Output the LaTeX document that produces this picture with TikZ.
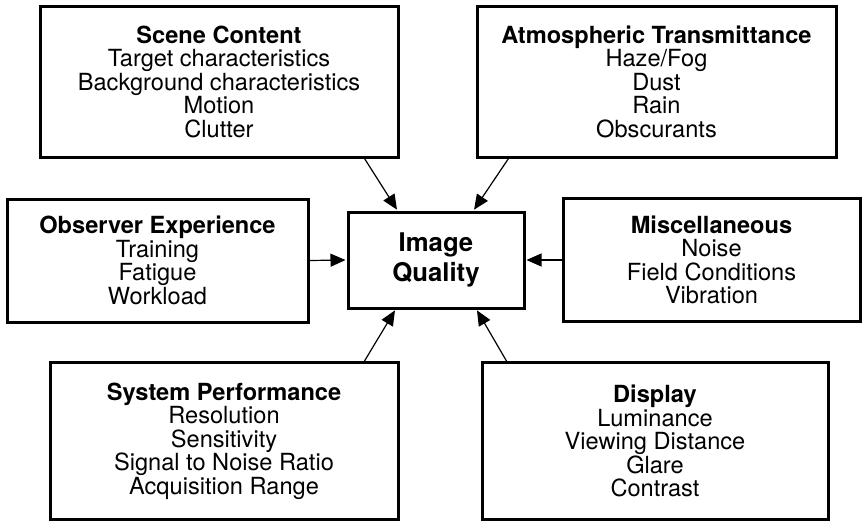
\documentclass[tikz,border=0pt]{standalone}
\usepackage{fontspec}
\setmainfont{TeX Gyre Heros}
\usetikzlibrary{arrows.meta}
\begin{document}
\begin{tikzpicture}[x=1pt, y=-1pt,
    box/.style={draw, line width=3pt, align=center, inner sep=0pt,
        font=\fontsize{23.6}{23.5}\selectfont},
    feed/.style={-{Triangle[length=15pt,width=13pt]}, line width=1.2pt, shorten >=1pt}]
    \useasboundingbox (0,0) rectangle (863,522);

    % central box
    \node[box, minimum width=176pt, minimum height=96pt,
        font=\bfseries\fontsize{25.7}{30}\selectfont] (quality) at (436,260) {Image\\Quality};

    % top row
    \node[box, minimum width=358pt, minimum height=151pt] (scene) at (219,81.5)
        {\textbf{Scene Content}\\Target characteristics\\Background characteristics\\Motion\\Clutter};
    \node[box, minimum width=359pt, minimum height=151pt] (atmos) at (656.5,81.5)
        {\textbf{Atmospheric Transmittance}\\Haze/Fog\\Dust\\Rain\\Obscurants};

    % middle row
    \node[box, minimum width=301pt, minimum height=123pt] (observer) at (157.5,260.5)
        {\textbf{Observer Experience}\\Training\\Fatigue\\Workload};
    \node[box, minimum width=297pt, minimum height=123pt] (misc) at (711.5,260)
        {\textbf{Miscellaneous}\\Noise\\Field Conditions\\Vibration};

    % bottom row
    \node[box, minimum width=348pt, minimum height=157pt] (system) at (224,441)
        {\textbf{System Performance}\\Resolution\\Sensitivity\\Signal to Noise Ratio\\Acquisition Range};
    \node[box, minimum width=346pt, minimum height=157pt] (display) at (655,441)
        {\textbf{Display}\\Luminance\\Viewing Distance\\Glare\\Contrast};

    % arrows into the centre
    \draw[feed] ([xshift=-35pt]scene.south east) -- ([xshift=51pt]quality.north west);
    \draw[feed] ([xshift=33pt]atmos.south west) -- ([xshift=-52pt]quality.north east);
    \draw[feed] (observer.east) -- (quality.west);
    \draw[feed] (misc.west) -- (quality.east);
    \draw[feed] ([xshift=-35pt]system.north east) -- ([xshift=49pt]quality.south west);
    \draw[feed] ([xshift=26pt]display.north west) -- ([xshift=-49pt]quality.south east);
\end{tikzpicture}
\end{document}
